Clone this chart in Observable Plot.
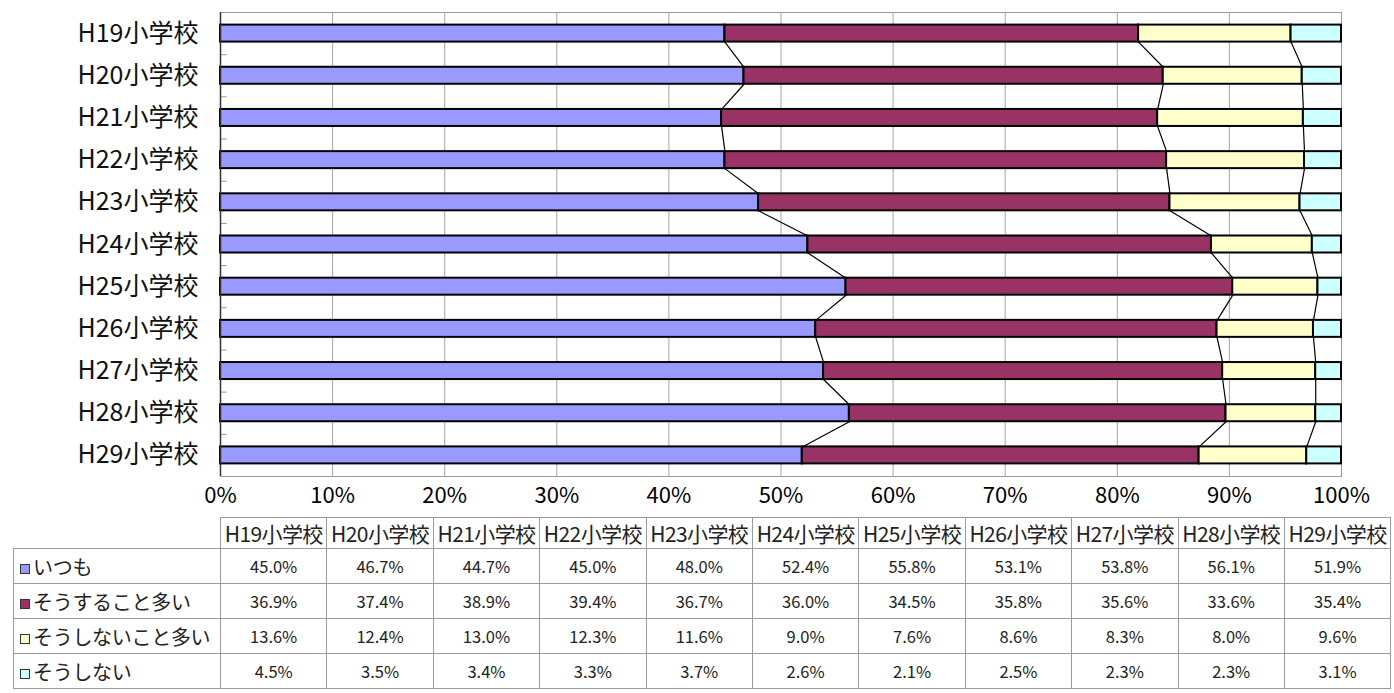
<!DOCTYPE html>
<html><head><meta charset="utf-8">
<script src="https://cdn.jsdelivr.net/npm/d3@7"></script>
<script src="https://cdn.jsdelivr.net/npm/@observablehq/plot@0.6"></script>
<style>
html,body{margin:0;padding:0;background:#fff;}
body{font-family:"Noto Sans CJK JP","Noto Sans",sans-serif;}
#wrap{position:relative;width:1394px;height:693px;overflow:hidden;background:#fff;}
#chart{position:absolute;left:0;top:0;}
#areaBorder{position:absolute;left:4px;top:0;width:0;height:515px;border-left:1px solid #8a8a8a;}
#tbl{position:absolute;left:13px;top:517px;border-collapse:collapse;table-layout:fixed;color:#222;}
#tbl td{border:1px solid #9a9a9a;padding:0;white-space:nowrap;overflow:visible;}
#tbl tr.head td{height:30px;font-size:21px;text-align:center;letter-spacing:-0.6px;}
#tbl tr.head td.blank{border:none;}
#tbl tr.row td{height:34px;font-size:16.5px;text-align:center;}
#tbl tr.row td.lab{font-size:20px;text-align:left;padding-left:6px;letter-spacing:-0.3px;}
.sw{display:inline-block;width:8px;height:8px;border:1px solid #333;margin-right:3px;vertical-align:1px;}
</style>
</head><body>
<div id="wrap"><div id="areaBorder"></div><div id="chart"></div><table id="tbl"></table></div>
<script>
const categories = ["H19小学校","H20小学校","H21小学校","H22小学校","H23小学校","H24小学校","H25小学校","H26小学校","H27小学校","H28小学校","H29小学校"];
const seriesNames = ["いつも","そうすること多い","そうしないこと多い","そうしない"];
const itsumo       = [45.0,46.7,44.7,45.0,48.0,52.4,55.8,53.1,53.8,56.1,51.9];
const souSuru      = [36.9,37.4,38.9,39.4,36.7,36.0,34.5,35.8,35.6,33.6,35.4];
const souShinaiOoi = [13.6,12.4,13.0,12.3,11.6, 9.0, 7.6, 8.6, 8.3, 8.0, 9.6];
const souShinai    = [ 4.5, 3.5, 3.4, 3.3, 3.7, 2.6, 2.1, 2.5, 2.3, 2.3, 3.1];
const seriesColors = ["#9999FF","#993366","#FFFFCC","#CCFFFF"];
const xTicks = [0,10,20,30,40,50,60,70,80,90,100];

const seriesValues = [itsumo, souSuru, souShinaiOoi, souShinai];
const halfBar = 0.2015;

// stacked (100%) segments
const segs = [];
const cums = categories.map((c, i) => {
  const total = d3.sum(seriesValues, s => s[i]);
  let acc = 0;
  const edges = [];
  seriesValues.forEach((s, k) => {
    const x1 = acc / total * 100;
    acc += s[i];
    const x2 = acc / total * 100;
    segs.push({cat: c, i, series: seriesNames[k], x1, x2});
    edges.push(x2);
  });
  return edges;
});
const links = [];
for (let i = 0; i < categories.length - 1; i++) {
  for (let k = 0; k < seriesNames.length - 1; k++) {
    links.push({x1: cums[i][k], y1: i + 0.5 + halfBar, x2: cums[i + 1][k], y2: i + 1.5 - halfBar});
  }
}
const centers = categories.map((_, i) => i + 0.5);
const bounds = categories.slice(1).map((_, i) => i + 1);

const chart = Plot.plot({
  width: 1394, height: 515,
  marginLeft: 220, marginRight: 53, marginTop: 12, marginBottom: 39,
  style: {fontFamily: "'Noto Sans CJK JP', sans-serif", color: "#000", background: "#fff", overflow: "visible"},
  x: {domain: [0, 100]},
  y: {domain: [0, categories.length], reverse: true},
  color: {domain: seriesNames, range: seriesColors},
  marks: [
    Plot.gridX(xTicks.slice(1, -1), {stroke: "#a6a6a6", strokeOpacity: 1}),
    Plot.frame({stroke: "#999"}),
    Plot.ruleY(bounds, {x1: 0, x2: 0.6, stroke: "#999"}),
    Plot.link(links, {x1: "x1", y1: "y1", x2: "x2", y2: "y2", stroke: "#000", strokeWidth: 1.2}),
    Plot.rect(segs, {x1: "x1", x2: "x2", y1: d => d.i + 0.5 - halfBar, y2: d => d.i + 0.5 + halfBar, fill: "series", stroke: "#000", strokeWidth: 2}),
    Plot.ruleX([0], {stroke: "#333", strokeWidth: 1.5}),
    Plot.axisX(xTicks, {tickSize: 0, tickPadding: 11, tickFormat: d => d + "%", fontSize: 22, fill: "#000"}),
    Plot.axisY(centers, {tickSize: 0, tickPadding: 22, tickFormat: d => categories[Math.floor(d)], fontSize: 25, fill: "#111"})
  ]
});
document.getElementById("chart").append(chart);

// data table below
const tbl = d3.select("#tbl");
const colgroup = tbl.append("colgroup");
colgroup.append("col").style("width", "207px");
categories.forEach(() => colgroup.append("col").style("width", "106.4px"));
const head = tbl.append("tr").attr("class", "head");
head.append("td").attr("class", "blank");
categories.forEach(c => head.append("td").text(c));
seriesNames.forEach((name, k) => {
  const tr = tbl.append("tr").attr("class", "row");
  const lab = tr.append("td").attr("class", "lab");
  lab.append("span").attr("class", "sw").style("background", seriesColors[k]);
  lab.append("span").text(name);
  seriesValues[k].forEach(v => tr.append("td").text(v.toFixed(1) + "%"));
});
</script>
</body></html>
